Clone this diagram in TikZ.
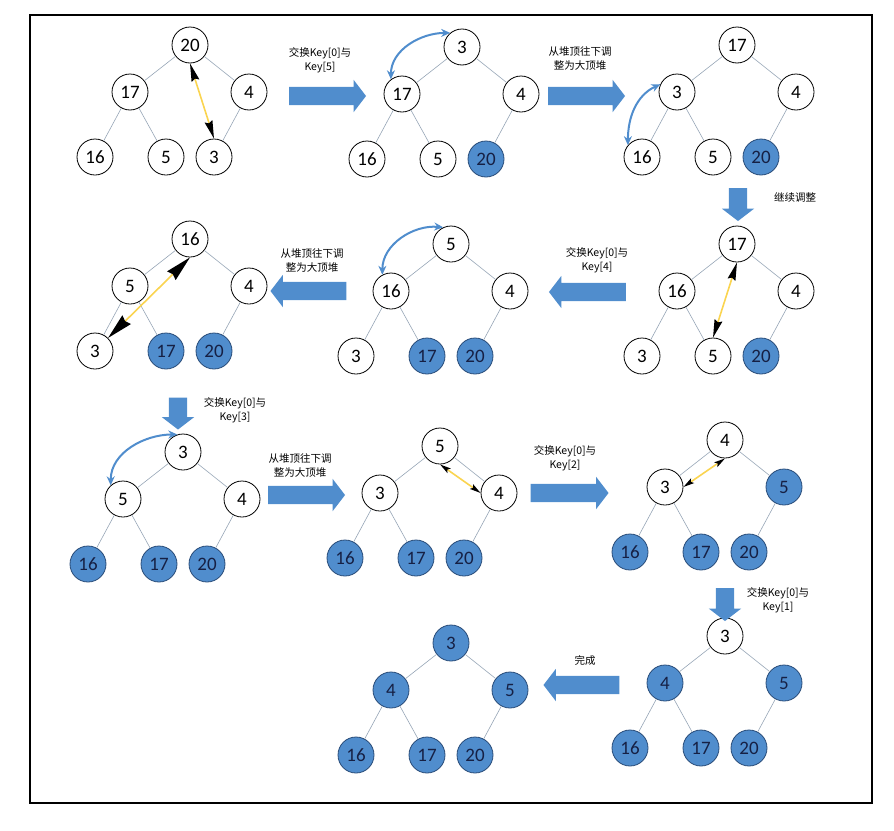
\documentclass[tikz,border=0pt]{standalone}
\usepackage{fontspec}
\setmainfont{Carlito}
\newfontfamily\cjk{Noto Sans CJK SC}
\usetikzlibrary{arrows.meta,shapes.arrows}

\definecolor{heapblue}{RGB}{80,141,205}
\definecolor{heapline}{RGB}{40,75,120}
\definecolor{heaptext}{RGB}{22,32,68}
\definecolor{edgegray}{RGB}{150,165,182}
\definecolor{swapyellow}{RGB}{250,212,80}

\tikzset{
  keynode/.style={circle,draw,line width=0.8pt,fill=white,minimum size=36pt,inner sep=0pt,font=\fontsize{19}{19}\selectfont},
  donenode/.style={keynode,fill=heapblue,draw=heapline,text=heaptext},
  treeedge/.style={draw=edgegray,line width=0.6pt},
  swapline/.style 2 args={draw=swapyellow,line width=1.6pt,{Stealth[black,inset=2pt,length=#1,width=#2]}-{Stealth[black,inset=2pt,length=#1,width=#2]}},
  swapcurve/.style={draw=heapblue,line width=2pt,{Stealth[length=9pt,width=8pt]}-{Stealth[length=9pt,width=8pt]}},
  blockarrow/.style={single arrow,fill=heapblue,draw=none,inner sep=9pt,minimum width=0pt,
    single arrow head extend=7pt,single arrow tip angle=105,minimum height=#1},
  steplabel/.style={font=\cjk\fontsize{10.5}{14}\selectfont,align=center,inner sep=0pt}
}

\begin{document}
\begin{tikzpicture}[x=1pt,y=1pt]
\useasboundingbox (0,0) rectangle (894,-830);
\draw[line width=2.5pt] (30,-15) rectangle (872,-803);

% step 1
\begin{scope}[shift={(190,-45)}]
\node[keynode] (t1a) at (0,0) {20};
\node[keynode] (t1b) at (-60,-47) {17};
\node[keynode] (t1c) at (59,-47) {4};
\node[keynode] (t1d) at (-95,-112) {16};
\node[keynode] (t1e) at (-24,-112) {5};
\node[keynode] (t1f) at (24,-112) {3};
\end{scope}
\foreach \u/\v in {a/b,a/c,b/d,b/e,c/f} \draw[treeedge] (t1\u) -- (t1\v);
\draw[swapline={18pt}{8pt}] (t1a.south) -- (t1f.north);

% step 2
\begin{scope}[shift={(462,-47)}]
\node[keynode] (t2a) at (0,0) {3};
\node[keynode] (t2b) at (-60,-47) {17};
\node[keynode] (t2c) at (59,-47) {4};
\node[keynode] (t2d) at (-95,-112) {16};
\node[keynode] (t2e) at (-24,-112) {5};
\node[donenode] (t2f) at (24,-112) {20};
\end{scope}
\foreach \u/\v in {a/b,a/c,b/d,b/e,c/f} \draw[treeedge] (t2\u) -- (t2\v);
\draw[swapcurve] (t2a.130) to[out=180,in=90] (t2b.127);

% step 3
\begin{scope}[shift={(737,-45)}]
\node[keynode] (t3a) at (0,0) {17};
\node[keynode] (t3b) at (-60,-47) {3};
\node[keynode] (t3c) at (59,-47) {4};
\node[keynode] (t3d) at (-95,-112) {16};
\node[keynode] (t3e) at (-24,-112) {5};
\node[donenode] (t3f) at (24,-112) {20};
\end{scope}
\foreach \u/\v in {a/b,a/c,b/d,b/e,c/f} \draw[treeedge] (t3\u) -- (t3\v);
\draw[swapcurve] (t3b.155) to[out=205,in=90] (t3d.140);

% step 4
\begin{scope}[shift={(737,-244)}]
\node[keynode] (t4a) at (0,0) {17};
\node[keynode] (t4b) at (-60,-47) {16};
\node[keynode] (t4c) at (59,-47) {4};
\node[keynode] (t4d) at (-95,-112) {3};
\node[keynode] (t4e) at (-24,-112) {5};
\node[donenode] (t4f) at (24,-112) {20};
\end{scope}
\foreach \u/\v in {a/b,a/c,b/d,b/e,c/f} \draw[treeedge] (t4\u) -- (t4\v);
\draw[swapline={18pt}{8pt}] (t4a.south) -- (t4e.north);

% step 5
\begin{scope}[shift={(451,-244)}]
\node[keynode] (t5a) at (0,0) {5};
\node[keynode] (t5b) at (-60,-47) {16};
\node[keynode] (t5c) at (59,-47) {4};
\node[keynode] (t5d) at (-95,-112) {3};
\node[donenode] (t5e) at (-24,-112) {17};
\node[donenode] (t5f) at (24,-112) {20};
\end{scope}
\foreach \u/\v in {a/b,a/c,b/d,b/e,c/f} \draw[treeedge] (t5\u) -- (t5\v);
\draw[swapcurve] (t5a.115) to[out=175,in=90] (t5b.118);

% step 6
\begin{scope}[shift={(190,-239)}]
\node[keynode] (t6a) at (0,0) {16};
\node[keynode] (t6b) at (-60,-47) {5};
\node[keynode] (t6c) at (59,-47) {4};
\node[keynode] (t6d) at (-95,-112) {3};
\node[donenode] (t6e) at (-24,-112) {17};
\node[donenode] (t6f) at (24,-112) {20};
\end{scope}
\foreach \u/\v in {a/b,a/c,b/d,b/e,c/f} \draw[treeedge] (t6\u) -- (t6\v);
\draw[swapline={26pt}{12pt}] (t6a.south) -- (t6d.north east);

% step 7
\begin{scope}[shift={(183,-452)}]
\node[keynode] (t7a) at (0,0) {3};
\node[keynode] (t7b) at (-60,-47) {5};
\node[keynode] (t7c) at (59,-47) {4};
\node[donenode] (t7d) at (-95,-112) {16};
\node[donenode] (t7e) at (-24,-112) {17};
\node[donenode] (t7f) at (24,-112) {20};
\end{scope}
\foreach \u/\v in {a/b,a/c,b/d,b/e,c/f} \draw[treeedge] (t7\u) -- (t7\v);
\draw[swapcurve] (t7a.108) to[out=180,in=90] (t7b.132);

% step 8
\begin{scope}[shift={(440,-446)}]
\node[keynode] (t8a) at (0,0) {5};
\node[keynode] (t8b) at (-60,-47) {3};
\node[keynode] (t8c) at (59,-47) {4};
\node[donenode] (t8d) at (-95,-112) {16};
\node[donenode] (t8e) at (-24,-112) {17};
\node[donenode] (t8f) at (24,-112) {20};
\end{scope}
\foreach \u/\v in {a/b,a/c,b/d,b/e,c/f} \draw[treeedge] (t8\u) -- (t8\v);
\draw[swapline={11pt}{5.5pt}] (t8a.south) -- (t8c.west);

% step 9
\begin{scope}[shift={(725,-440)}]
\node[keynode] (t9a) at (0,0) {4};
\node[keynode] (t9b) at (-60,-47) {3};
\node[donenode] (t9c) at (59,-47) {5};
\node[donenode] (t9d) at (-95,-112) {16};
\node[donenode] (t9e) at (-24,-112) {17};
\node[donenode] (t9f) at (24,-112) {20};
\end{scope}
\foreach \u/\v in {a/b,a/c,b/d,b/e,c/f} \draw[treeedge] (t9\u) -- (t9\v);
\draw[swapline={11pt}{5.5pt}] (t9a.south) -- (t9b.east);

% step 10
\begin{scope}[shift={(725,-636)}]
\node[keynode] (t10a) at (0,0) {3};
\node[donenode] (t10b) at (-60,-47) {4};
\node[donenode] (t10c) at (59,-47) {5};
\node[donenode] (t10d) at (-95,-112) {16};
\node[donenode] (t10e) at (-24,-112) {17};
\node[donenode] (t10f) at (24,-112) {20};
\end{scope}
\foreach \u/\v in {a/b,a/c,b/d,b/e,c/f} \draw[treeedge] (t10\u) -- (t10\v);

% result
\begin{scope}[shift={(451,-643)}]
\node[donenode] (t11a) at (0,0) {3};
\node[donenode] (t11b) at (-60,-47) {4};
\node[donenode] (t11c) at (59,-47) {5};
\node[donenode] (t11d) at (-95,-112) {16};
\node[donenode] (t11e) at (-24,-112) {17};
\node[donenode] (t11f) at (24,-112) {20};
\end{scope}
\foreach \u/\v in {a/b,a/c,b/d,b/e,c/f} \draw[treeedge] (t11\u) -- (t11\v);

% block arrows and their labels
\node[blockarrow=77pt] (ar1) at (324,-96) {};
\node[steplabel] (lb1) at (320,-60) {交换Key[0]与\\Key[5]};
\node[blockarrow=77pt] (ar2) at (583,-96) {};
\node[steplabel] (lb2) at (580,-58) {从堆顶往下调\\整为大顶堆};
\node[blockarrow=33pt,rotate=-90] (ar3) at (738,-201) {};
\node[steplabel] (lb3) at (795,-198) {继续调整};
\node[blockarrow=77pt,rotate=180] (ar4) at (591,-292) {};
\node[steplabel] (lb4) at (597,-260) {交换Key[0]与\\Key[4]};
\node[blockarrow=76pt,rotate=180] (ar5) at (312,-291) {};
\node[steplabel] (lb5) at (312,-260) {从堆顶往下调\\整为大顶堆};
\node[blockarrow=32pt,rotate=-90] (ar6) at (178,-410) {};
\node[steplabel] (lb6) at (235,-410) {交换Key[0]与\\Key[3]};
\node[blockarrow=77pt] (ar7) at (303,-495) {};
\node[steplabel] (lb7) at (300,-465) {从堆顶往下调\\整为大顶堆};
\node[blockarrow=78pt] (ar8) at (566,-493) {};
\node[steplabel] (lb8) at (565,-458) {交换Key[0]与\\Key[2]};
\node[blockarrow=33pt,rotate=-90] (ar9) at (725,-601) {};
\node[steplabel] (lb9) at (778,-600) {交换Key[0]与\\Key[1]};
\node[blockarrow=76pt,rotate=180] (ar10) at (585,-685) {};
\node[steplabel] (lb10) at (585,-660) {完成};
\end{tikzpicture}
\end{document}
